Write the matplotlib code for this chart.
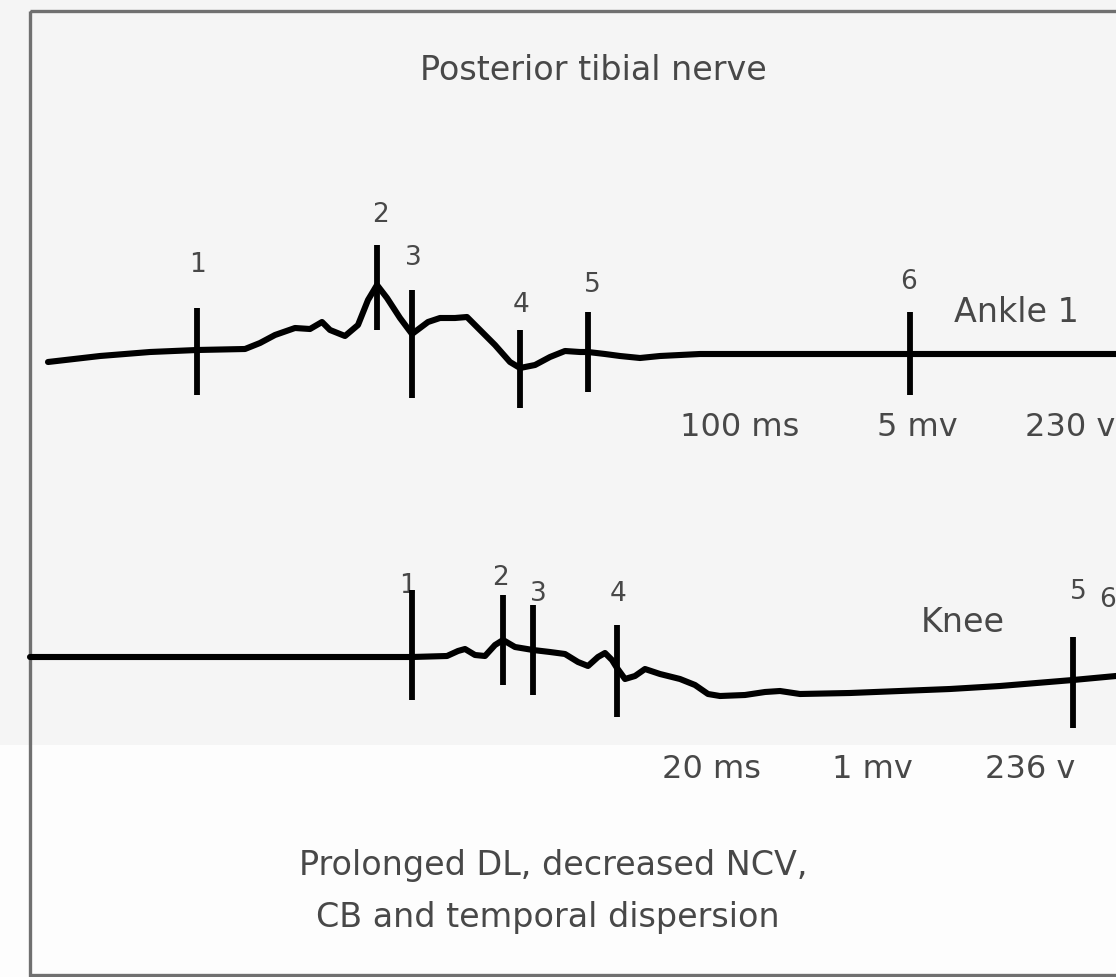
import matplotlib
matplotlib.use("Agg")
import matplotlib.pyplot as plt
from matplotlib.patches import Rectangle

# canvas is laid out in pixel units of the original picture (x right, y down)
W, H = 1116, 977

# ankle trace (x, y)
ankle_x = [48, 100, 150, 197, 245, 260, 275, 295, 310, 322, 330, 345, 358, 368, 377, 387,
           400, 412, 420, 428, 440, 455, 467, 480, 495, 510, 520, 535, 550, 565, 580, 588,
           605, 620, 640, 660, 700, 800, 910, 1116]
ankle_y = [362, 356, 352, 350, 349, 343, 335, 328, 329, 322, 330, 336, 325, 300, 285, 298,
           318, 334, 328, 322, 318, 318, 317, 330, 345, 362, 368, 365, 357, 351, 352, 352,
           354, 356, 358, 356, 354, 354, 354, 354]

# knee trace
knee_x = [30, 200, 412, 447, 458, 465, 475, 485, 495, 503, 515, 533, 550, 565, 578, 588,
          598, 605, 612, 617, 625, 635, 645, 660, 680, 695, 708, 720, 745, 765, 780, 800,
          850, 950, 1000, 1073, 1116]
knee_y = [657, 657, 657, 656, 651, 649, 655, 656, 645, 640, 647, 650, 652, 654, 662, 666,
          657, 653, 660, 668, 679, 676, 669, 674, 679, 685, 694, 696, 695, 692, 691, 694,
          693, 689, 686, 680, 676]

# marker ticks
ankle_mk_x = [197, 377, 412, 520, 588, 910]
ankle_mk_top = [308, 245, 290, 330, 312, 312]
ankle_mk_bot = [395, 330, 398, 408, 392, 395]
ankle_labels = ["1", "2", "3", "4", "5", "6"]
ankle_lab_x = [197, 381, 413, 521, 592, 908]
ankle_lab_y = [265, 215, 258, 305, 285, 282]

knee_mk_x = [412, 503, 533, 617, 1073]
knee_mk_top = [590, 595, 605, 625, 637]
knee_mk_bot = [700, 685, 695, 717, 728]
knee_labels = ["1", "2", "3", "4", "5", "6"]
knee_lab_x = [408, 500, 538, 618, 1078, 1116]
knee_lab_y = [586, 578, 594, 594, 592, 600]

ankle_info = ["100 ms", "5 mv", "230 v"]
ankle_info_x = [740, 917, 1093]
knee_info = ["20 ms", "1 mv", "236 v"]
knee_info_x = [712, 872, 1030]

fig = plt.figure(figsize=(W / 100, H / 100), dpi=100)
fig.patch.set_facecolor("#f5f5f5")
ax = fig.add_axes([0, 0, 1, 1])
ax.set_xlim(0, W)
ax.set_ylim(H, 0)
ax.axis("off")

# lighter lower band
ax.add_patch(Rectangle((0, 745), W, H - 745, facecolor="#fdfdfd", edgecolor="none", zorder=0))
# frame
ax.add_patch(Rectangle((30, 11), 1300, 964, facecolor="none", edgecolor="#707070",
                       lw=2.4, zorder=1, clip_on=False))

lk = dict(color="black", lw=4.4, solid_capstyle="round", solid_joinstyle="round", zorder=3)
ax.plot(ankle_x, ankle_y, **lk)
ax.plot(knee_x, knee_y, **lk)

tk = dict(color="black", lw=4.2, zorder=4)
ax.vlines(ankle_mk_x, ankle_mk_top, ankle_mk_bot, **tk)
ax.vlines(knee_mk_x, knee_mk_top, knee_mk_bot, **tk)

tc = "#484848"
for s, x, y in zip(ankle_labels, ankle_lab_x, ankle_lab_y):
    ax.text(x, y, s, fontsize=19, color=tc, ha="center", va="center")
for i, (s, x, y) in enumerate(zip(knee_labels, knee_lab_x, knee_lab_y)):
    # last label sits right at the edge of the picture
    ax.text(x, y, s, fontsize=19, color=tc, va="center",
            ha="right" if i == len(knee_labels) - 1 else "center")

ax.text(593, 70, "Posterior tibial nerve", fontsize=24, color=tc, ha="center", va="center")
ax.text(1016, 313, "Ankle 1", fontsize=24, color=tc, ha="center", va="center")
ax.text(963, 622, "Knee", fontsize=24, color=tc, ha="center", va="center")

for i, (s, x) in enumerate(zip(ankle_info, ankle_info_x)):
    ax.text(x if i < 2 else 1115, 428, s, fontsize=23, color=tc, va="center",
            ha="center" if i < 2 else "right")
for s, x in zip(knee_info, knee_info_x):
    ax.text(x, 770, s, fontsize=23, color=tc, ha="center", va="center")

ax.text(553, 866, "Prolonged DL, decreased NCV,", fontsize=24, color=tc, ha="center", va="center")
ax.text(548, 917, "CB and temporal dispersion", fontsize=24, color=tc, ha="center", va="center")

fig.savefig("out.png", dpi=100, facecolor=fig.get_facecolor())
